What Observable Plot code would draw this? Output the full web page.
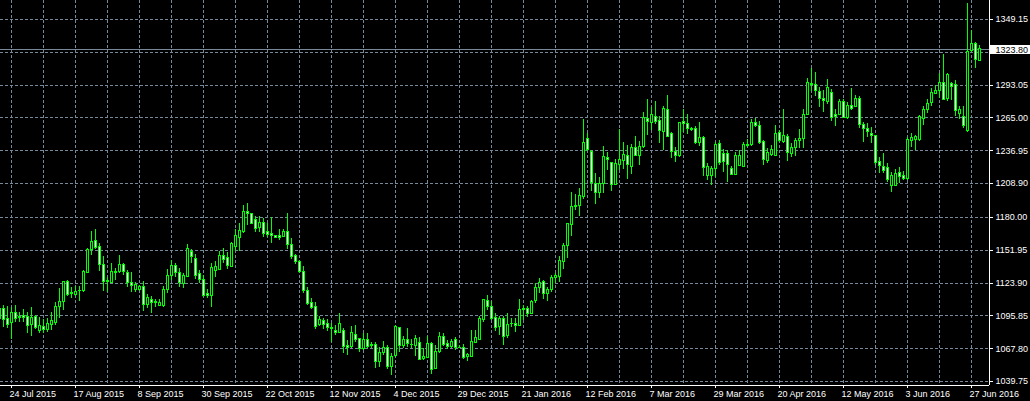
<!DOCTYPE html>
<html><head><meta charset="utf-8">
<script src="https://cdn.jsdelivr.net/npm/d3@7"></script>
<script src="https://cdn.jsdelivr.net/npm/@observablehq/plot@0.6"></script>
<style>html,body{margin:0;padding:0;background:#000;overflow:hidden}</style>
</head><body><div id="chart"></div>
<script>
// Daily OHLC, one entry per bar (bar index = position in array)
const open = [1093.3,1101.8,1093.3,1089.6,1098.4,1094.7,1096.1,1095.3,1087.9,1095.3,1082.7,1086.2,1083.9,1088.1,1089.9,1103.3,1107.8,1125.2,1114.6,1113.8,1117.2,1116.9,1132.3,1152.5,1159.9,1155.1,1139.4,1124.6,1124.1,1133.7,1133.2,1139.7,1132.9,1124.1,1118.1,1118.1,1120.9,1105.0,1109.8,1107.3,1104.7,1104.7,1118.1,1129.8,1138.3,1132.6,1123.2,1128.9,1150.8,1144.6,1131.8,1126.6,1114.7,1112.4,1134.6,1135.2,1146.6,1145.4,1138.0,1154.6,1162.5,1167.4,1184.2,1182.5,1177.4,1170.8,1175.4,1167.4,1165.4,1163.7,1164.0,1163.1,1167.1,1156.8,1146.6,1141.7,1133.2,1117.5,1107.0,1103.8,1088.4,1091.3,1089.3,1085.6,1083.3,1081.0,1082.5,1070.2,1069.1,1079.6,1076.2,1067.6,1075.6,1071.0,1071.0,1056.2,1063.9,1068.0,1052.5,1061.4,1085.6,1069.9,1074.8,1071.3,1070.5,1072.8,1058.8,1059.7,1071.9,1050.5,1064.8,1078.2,1071.9,1069.1,1075.6,1068.5,1068.5,1060.8,1061.1,1072.5,1075.6,1092.7,1108.9,1103.2,1093.8,1086.1,1093.2,1078.4,1088.7,1089.0,1087.0,1101.0,1101.8,1097.5,1108.4,1119.7,1125.2,1114.6,1118.0,1128.0,1128.9,1141.7,1155.4,1173.6,1189.0,1189.6,1197.3,1247.1,1236.3,1208.7,1200.7,1208.7,1230.9,1226.4,1208.1,1225.2,1228.1,1232.9,1222.9,1239.4,1232.3,1240.0,1264.2,1260.5,1266.2,1262.8,1252.8,1271.9,1251.4,1236.3,1232.3,1261.4,1260.0,1255.7,1255.7,1243.4,1248.0,1215.8,1215.2,1221.5,1242.9,1234.3,1234.3,1221.5,1216.6,1224.3,1223.5,1241.1,1242.0,1260.5,1257.7,1244.3,1228.6,1233.5,1232.9,1252.0,1244.3,1248.6,1234.3,1239.4,1245.1,1246.6,1267.9,1294.1,1293.3,1287.6,1281.3,1278.5,1286.4,1267.9,1267.6,1279.0,1265.1,1275.3,1274.2,1280.8,1259.1,1255.7,1251.7,1250.0,1227.7,1223.5,1222.3,1206.6,1207.2,1218.0,1215.5,1212.4,1245.1,1246.3,1246.3,1264.2,1271.4,1277.6,1285.6,1287.9,1295.0,1281.3,1293.6,1293.3,1268.5,1266.2,1253.7,1322.6,1327.8,1313.5];
const high = [1105.5,1104.7,1104.1,1103.3,1104.7,1099.0,1101.0,1099.0,1103.0,1096.1,1094.1,1092.4,1093.3,1098.4,1107.5,1118.9,1125.6,1126.1,1120.4,1120.9,1120.9,1134.6,1153.1,1167.9,1169.4,1157.4,1146.6,1128.9,1140.3,1136.0,1147.1,1140.9,1134.6,1132.9,1124.6,1121.5,1125.2,1114.1,1112.7,1109.5,1110.1,1121.2,1135.5,1143.2,1140.3,1136.0,1131.8,1156.5,1152.3,1148.0,1134.6,1130.3,1118.1,1140.9,1142.3,1150.8,1153.1,1150.3,1158.8,1169.7,1174.5,1190.2,1191.6,1183.6,1180.8,1180.8,1178.8,1174.5,1179.6,1163.9,1169.4,1169.4,1183.1,1162.2,1148.3,1143.2,1138.0,1119.8,1110.4,1107.5,1095.3,1093.3,1092.4,1089.0,1087.6,1098.1,1084.7,1074.8,1086.7,1087.6,1076.5,1081.0,1080.5,1073.3,1073.3,1068.5,1073.9,1070.5,1063.4,1087.6,1085.9,1078.2,1084.7,1075.3,1079.0,1077.0,1067.6,1078.2,1073.3,1070.5,1081.3,1080.5,1074.8,1075.9,1077.0,1070.5,1071.0,1063.4,1083.3,1083.3,1095.3,1110.1,1113.2,1108.4,1098.1,1095.2,1095.2,1097.5,1093.2,1093.8,1109.5,1104.6,1103.8,1108.9,1123.7,1127.5,1126.0,1120.3,1130.3,1132.3,1146.5,1157.4,1175.0,1201.5,1199.3,1205.0,1263.4,1251.4,1237.2,1217.2,1213.8,1240.6,1235.7,1227.2,1229.2,1254.8,1244.3,1241.4,1242.0,1249.1,1245.2,1269.9,1280.5,1274.2,1279.0,1266.2,1274.8,1284.2,1252.8,1239.4,1261.4,1271.9,1267.9,1257.1,1257.7,1261.1,1249.1,1225.8,1223.5,1244.3,1245.7,1237.7,1237.2,1223.5,1235.7,1237.2,1244.3,1246.3,1263.4,1264.2,1262.0,1245.7,1238.6,1241.4,1258.5,1254.3,1271.9,1250.8,1242.9,1247.1,1254.8,1271.9,1298.4,1307.0,1303.5,1290.7,1288.4,1297.6,1289.0,1271.9,1280.8,1280.5,1278.5,1289.9,1284.2,1283.3,1261.4,1260.5,1256.5,1250.3,1231.5,1234.3,1225.7,1218.6,1220.6,1222.3,1219.5,1248.0,1251.4,1250.0,1267.1,1274.8,1280.5,1289.9,1292.7,1303.3,1319.2,1302.7,1295.6,1297.0,1274.8,1274.8,1362.5,1339.7,1329.2,1326.9];
const low = [1091.9,1085.6,1084.7,1075.3,1090.4,1090.4,1090.4,1081.0,1078.5,1083.9,1080.5,1081.0,1081.9,1083.3,1087.6,1093.3,1100.4,1112.4,1110.9,1112.7,1108.4,1116.1,1131.8,1147.4,1152.3,1134.0,1116.6,1116.1,1123.2,1126.1,1131.8,1130.3,1120.4,1115.5,1115.8,1116.6,1099.6,1102.4,1097.6,1102.7,1103.8,1103.3,1114.6,1126.1,1128.9,1120.4,1119.5,1128.3,1140.3,1126.6,1123.2,1111.2,1110.4,1103.3,1128.3,1134.6,1140.3,1135.5,1137.5,1150.8,1151.1,1165.9,1173.1,1173.6,1167.4,1167.4,1163.1,1163.1,1158.0,1162.3,1160.3,1162.5,1152.3,1144.0,1139.7,1131.8,1114.7,1104.7,1101.0,1083.9,1086.7,1083.9,1082.7,1073.3,1079.0,1080.5,1063.9,1062.0,1067.6,1073.3,1064.8,1066.2,1067.6,1067.6,1051.1,1052.0,1062.0,1049.7,1044.8,1060.5,1064.8,1067.6,1069.1,1067.6,1061.1,1057.7,1057.7,1059.1,1045.7,1049.7,1063.4,1069.6,1067.1,1067.6,1066.2,1067.6,1058.2,1057.1,1060.5,1071.9,1074.8,1090.4,1100.4,1091.8,1082.7,1079.0,1070.5,1076.1,1086.1,1081.8,1086.8,1091.8,1094.1,1097.0,1106.6,1114.6,1109.5,1108.4,1115.5,1123.7,1124.6,1135.1,1145.1,1163.9,1185.9,1181.0,1195.0,1236.6,1202.4,1191.0,1195.8,1200.7,1220.1,1202.4,1207.3,1220.1,1220.9,1212.1,1216.4,1232.0,1224.3,1238.6,1250.0,1254.3,1259.4,1243.4,1237.2,1248.0,1230.0,1227.2,1230.9,1252.8,1250.6,1253.7,1242.3,1240.6,1214.9,1211.5,1207.2,1214.4,1224.3,1218.6,1210.1,1215.8,1215.8,1223.5,1223.2,1239.4,1240.9,1257.1,1242.3,1224.3,1225.8,1232.0,1232.0,1244.3,1242.9,1228.0,1230.9,1232.0,1238.6,1238.6,1267.1,1288.0,1283.3,1273.6,1269.9,1276.2,1262.2,1257.7,1267.1,1264.2,1263.6,1271.4,1273.6,1255.7,1244.3,1248.5,1243.4,1224.3,1217.2,1217.2,1210.1,1201.5,1206.4,1208.6,1211.5,1211.5,1240.0,1237.2,1245.1,1258.5,1269.1,1274.8,1284.7,1281.3,1279.9,1279.3,1279.9,1266.2,1263.4,1255.7,1252.8,1321.2,1307.5,1313.5];
const close = [1101.8,1092.4,1088.4,1098.4,1093.3,1093.8,1094.1,1087.3,1094.4,1085.6,1087.3,1083.9,1089.0,1091.6,1103.3,1107.5,1125.2,1113.5,1115.0,1116.6,1117.5,1133.7,1152.3,1159.1,1153.7,1139.4,1124.6,1125.5,1133.7,1132.6,1139.7,1133.2,1123.8,1121.5,1122.3,1120.9,1105.0,1110.7,1107.0,1107.0,1107.2,1118.1,1130.3,1138.3,1132.6,1124.1,1129.5,1153.1,1146.0,1130.3,1126.6,1113.2,1112.7,1136.9,1138.0,1146.6,1144.0,1138.3,1157.4,1163.7,1168.8,1184.2,1182.5,1174.5,1169.7,1175.4,1166.0,1165.1,1164.0,1162.5,1162.2,1167.1,1156.8,1146.0,1141.7,1133.2,1116.9,1106.1,1102.7,1086.2,1091.9,1087.9,1085.3,1084.5,1081.0,1089.0,1069.1,1068.5,1081.6,1075.6,1067.6,1074.8,1069.6,1070.2,1056.2,1064.2,1068.5,1052.0,1061.1,1086.7,1069.9,1074.8,1071.9,1071.0,1076.2,1058.5,1060.5,1071.9,1049.7,1064.8,1077.9,1071.3,1069.1,1073.9,1068.2,1068.3,1059.7,1062.0,1073.9,1077.0,1093.3,1109.0,1103.2,1093.2,1085.3,1093.2,1077.6,1088.1,1089.0,1087.0,1101.0,1101.3,1097.5,1108.1,1119.7,1124.0,1114.6,1118.0,1128.3,1129.5,1143.1,1155.9,1174.5,1189.3,1189.6,1197.9,1243.7,1238.0,1209.5,1200.7,1208.7,1232.0,1229.2,1208.1,1225.8,1229.2,1233.7,1224.9,1239.4,1232.3,1240.6,1265.1,1261.4,1267.6,1261.4,1253.7,1272.8,1249.1,1235.7,1232.3,1260.8,1260.0,1255.7,1254.8,1243.4,1247.7,1222.3,1223.5,1221.5,1242.3,1226.3,1227.2,1225.2,1216.4,1232.3,1232.9,1242.3,1242.0,1260.5,1257.7,1243.4,1229.2,1235.2,1237.2,1251.4,1245.1,1250.0,1234.9,1239.4,1245.1,1247.1,1267.9,1295.0,1293.3,1287.9,1281.3,1279.3,1290.7,1265.1,1265.6,1279.0,1265.1,1274.8,1272.8,1280.8,1259.1,1255.7,1252.8,1249.4,1226.3,1223.7,1219.5,1212.1,1215.8,1217.2,1214.4,1212.4,1246.3,1248.0,1248.5,1265.6,1271.9,1277.1,1286.7,1288.4,1295.0,1280.5,1301.3,1291.3,1270.8,1271.4,1258.5,1321.2,1327.8,1314.7,1323.8];

// Time-axis labels (one every 16 bars, first at bar 3)
const xLabels = ["24 Jul 2015","17 Aug 2015","8 Sep 2015","30 Sep 2015","22 Oct 2015","12 Nov 2015","4 Dec 2015","29 Dec 2015","21 Jan 2016","12 Feb 2016","7 Mar 2016","29 Mar 2016","20 Apr 2016","12 May 2016","3 Jun 2016","27 Jun 2016"];
// Price-axis gridline levels and their visible labels
const yGrid = [1039.75,1067.80,1095.85,1123.90,1151.95,1180.00,1208.90,1236.95,1265.00,1293.05,1321.10,1349.15];
const yLabels = ["1039.75","1067.80","1095.85","1123.90","1151.95","1180.00","1208.90","1236.95","1265.00","1293.05","","1349.15"];
const lastPrice = 1323.80;

const data = open.map((o, i) => ({i, open: o, high: high[i], low: low[i], close: close[i]}));
const labelData = xLabels.map((label, k) => ({label, i: 3 + 16 * k}));
const yLabelData = yGrid.map((v, k) => ({v, label: yLabels[k]})).filter(d => d.label);
const gridIdx = d3.range(3, open.length, 8);

const W = 1030, H = 401, plotW = 989, plotH = 385;
const PX = 0.8547;               // price units per pixel
const yTop = 1365.39, yBot = yTop - PX * plotH;
const xDom = [0.25, 0.25 + plotW / 4];
const FONT = "Liberation Sans, Arial, sans-serif";
const GRID = "#778899";
const LIME = "#00ff00";
const crisp = {shapeRendering: "crispEdges"};

const chart = Plot.plot({
  width: W, height: H,
  marginLeft: 0, marginRight: W - plotW, marginTop: 0, marginBottom: H - plotH,
  style: {background: "#000", fontFamily: FONT, fontSize: "9px", overflow: "visible"},
  x: {domain: xDom, axis: null},
  y: {domain: [yBot, yTop], axis: null},
  color: {type: "identity"},
  marks: [
    Plot.ruleY(yGrid, {stroke: GRID, strokeDasharray: "3,2", ...crisp}),
    Plot.ruleX(gridIdx, {stroke: GRID, strokeDasharray: "3,2", ...crisp}),
    Plot.ruleY([lastPrice], {stroke: GRID, ...crisp}),
    Plot.ruleX(data, {x: "i", y1: "low", y2: "high", stroke: LIME, ...crisp}),
    Plot.rect(data, {
      x1: d => d.i - 0.25, x2: d => d.i + 0.25,
      y1: "open", y2: "close",
      fill: d => d.close >= d.open ? "#000000" : "#ffffff",
      stroke: LIME, strokeWidth: 1, ...crisp
    }),
    // axes lines
    Plot.ruleY([yBot], {stroke: "#ffffff", ...crisp}),
    Plot.ruleX([xDom[1]], {stroke: "#ffffff", ...crisp}),
    Plot.ruleY(yGrid, {x1: () => xDom[1], x2: () => xDom[1] + 1, stroke: "#ffffff", ...crisp}),
    Plot.text(yLabelData, {x: () => xDom[1], y: "v", dx: 6, text: "label", textAnchor: "start", fill: "#ffffff", fontSize: 9, fontFamily: FONT}),
    // current price tag
    Plot.rect([lastPrice], {x1: () => xDom[1], x2: () => xDom[1] + 11, y1: d => d + 3.7 * PX, y2: d => d - 5.8 * PX, fill: "#ffffff", ...crisp}),
    Plot.text([lastPrice], {x: () => xDom[1], y: d => d - 1 * PX, dx: 6, text: d => d.toFixed(2), textAnchor: "start", fill: "#000000", fontSize: 9, fontFamily: FONT}),
    // time axis
    Plot.ruleX(labelData, {x: "i", y1: () => yBot, y2: () => yBot - 3 * PX, stroke: "#ffffff", ...crisp}),
    Plot.text(labelData, {x: "i", y: () => yBot, dy: 8.5, dx: -2, text: "label", textAnchor: "start", fill: "#ffffff", fontSize: 9, fontFamily: FONT})
  ]
});
document.getElementById("chart").appendChild(chart);
</script>
</body></html>
